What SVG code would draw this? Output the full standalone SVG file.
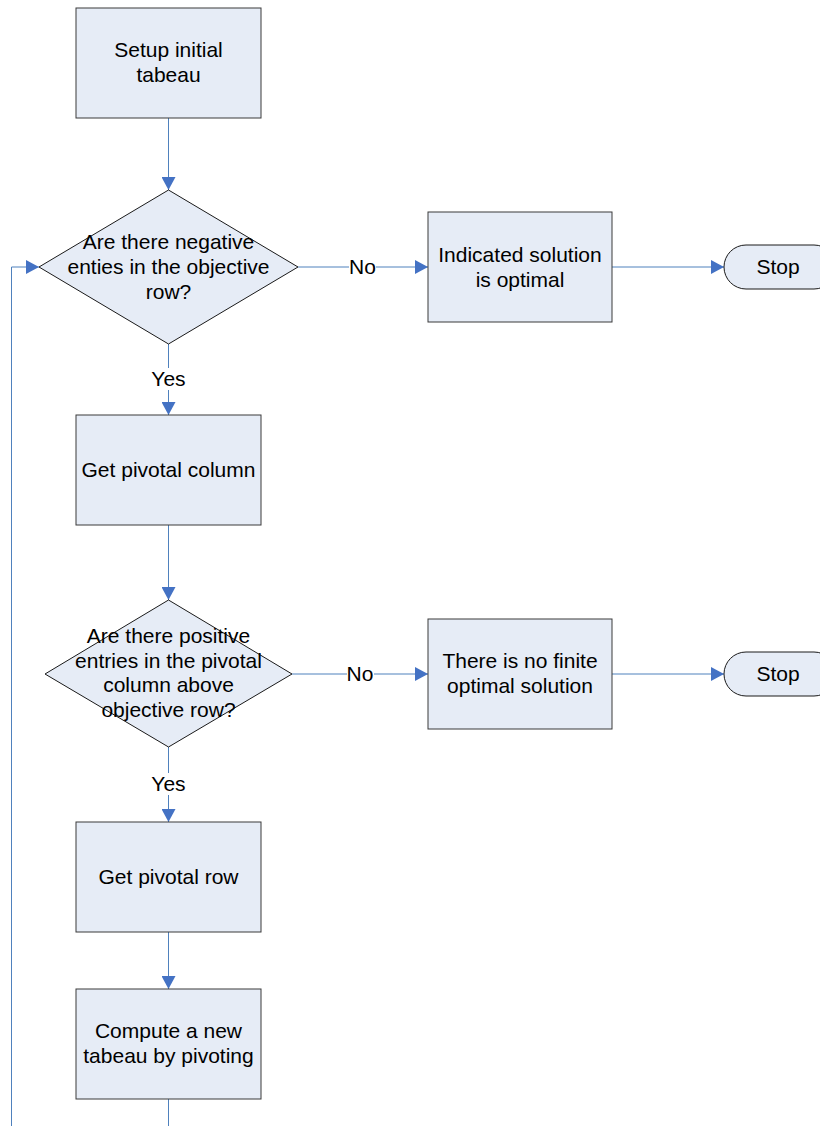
<svg xmlns="http://www.w3.org/2000/svg" width="820" height="1126" viewBox="0 0 820 1126">
<defs>
<style>
.box{fill:#E6ECF6;stroke:#3a3a3a;stroke-width:1}
.dia{fill:#E6ECF6;stroke:#1a1a1a;stroke-width:1}
.term{fill:#E6ECF6;stroke:#1a1a1a;stroke-width:1}
.con{fill:none;stroke:#4F81BD;stroke-width:1;marker-end:url(#arr)}
.plain{fill:none;stroke:#4F81BD;stroke-width:1}
text{font-family:"Liberation Sans",Arial,sans-serif;font-size:21px;fill:#000;text-anchor:middle}
.lblbg{fill:#fff}
</style>
<marker id="arr" markerUnits="userSpaceOnUse" markerWidth="14" markerHeight="14" refX="13" refY="7" orient="auto">
<path d="M0,0 L13,7 L0,14 Z" fill="#4472C4"/>
</marker>
</defs>
<g id="connectors">
<path class="con" d="M168.5,118 V190"/>
<path class="con" d="M298,267 H428"/>
<path class="con" d="M612,267 H724"/>
<path class="con" d="M168.5,344 V415"/>
<path class="con" d="M168.5,525 V600"/>
<path class="con" d="M292,674 H428"/>
<path class="con" d="M612,674 H724"/>
<path class="con" d="M168.5,747 V822"/>
<path class="con" d="M168.5,932 V989"/>
<path class="con" d="M168.5,1099 V1140 H11.5 V267 H39"/>
<rect class="lblbg" x="349" y="257" width="27" height="20"/>
<text x="362.5" y="274">No</text>
<rect class="lblbg" x="347" y="664" width="27" height="20"/>
<text x="360" y="681">No</text>
<rect class="lblbg" x="150" y="368" width="37" height="22"/>
<text x="168.5" y="386">Yes</text>
<rect class="lblbg" x="150" y="773" width="37" height="22"/>
<text x="168.5" y="791">Yes</text>
</g>
<g id="setup">
<rect class="box" x="76" y="8" width="185" height="110"/>
<text x="168.5" y="57">Setup initial</text>
<text x="168.5" y="82">tabeau</text>
</g>
<g id="decision1">
<polygon class="dia" points="168.5,190 298,267 168.5,344 39,267"/>
<text x="168.5" y="248.5">Are there negative</text>
<text x="168.5" y="273.5">enties in the objective</text>
<text x="168.5" y="298.5">row?</text>
</g>
<g id="optimal">
<rect class="box" x="428" y="212" width="184" height="110"/>
<text x="520" y="261.5">Indicated solution</text>
<text x="520" y="286.5">is optimal</text>
</g>
<g id="stop1">
<rect class="term" x="724" y="245" width="112" height="44" rx="22" ry="22"/>
<text x="778" y="274">Stop</text>
</g>
<g id="pivotcol">
<rect class="box" x="76" y="415" width="185" height="110"/>
<text x="168.5" y="477">Get pivotal column</text>
</g>
<g id="decision2">
<polygon class="dia" points="168.5,600 292,674 168.5,747 45,674"/>
<text x="168.5" y="643">Are there positive</text>
<text x="168.5" y="667.5">entries in the pivotal</text>
<text x="168.5" y="692">column above</text>
<text x="168.5" y="716.5">objective row?</text>
</g>
<g id="nofinite">
<rect class="box" x="428" y="619" width="184" height="110"/>
<text x="520" y="668">There is no finite</text>
<text x="520" y="693">optimal solution</text>
</g>
<g id="stop2">
<rect class="term" x="724" y="652" width="112" height="44" rx="22" ry="22"/>
<text x="778" y="681">Stop</text>
</g>
<g id="pivotrow">
<rect class="box" x="76" y="822" width="185" height="110"/>
<text x="168.5" y="884">Get pivotal row</text>
</g>
<g id="compute">
<rect class="box" x="76" y="989" width="185" height="110"/>
<text x="168.5" y="1038">Compute a new</text>
<text x="168.5" y="1063">tabeau by pivoting</text>
</g>
</svg>
